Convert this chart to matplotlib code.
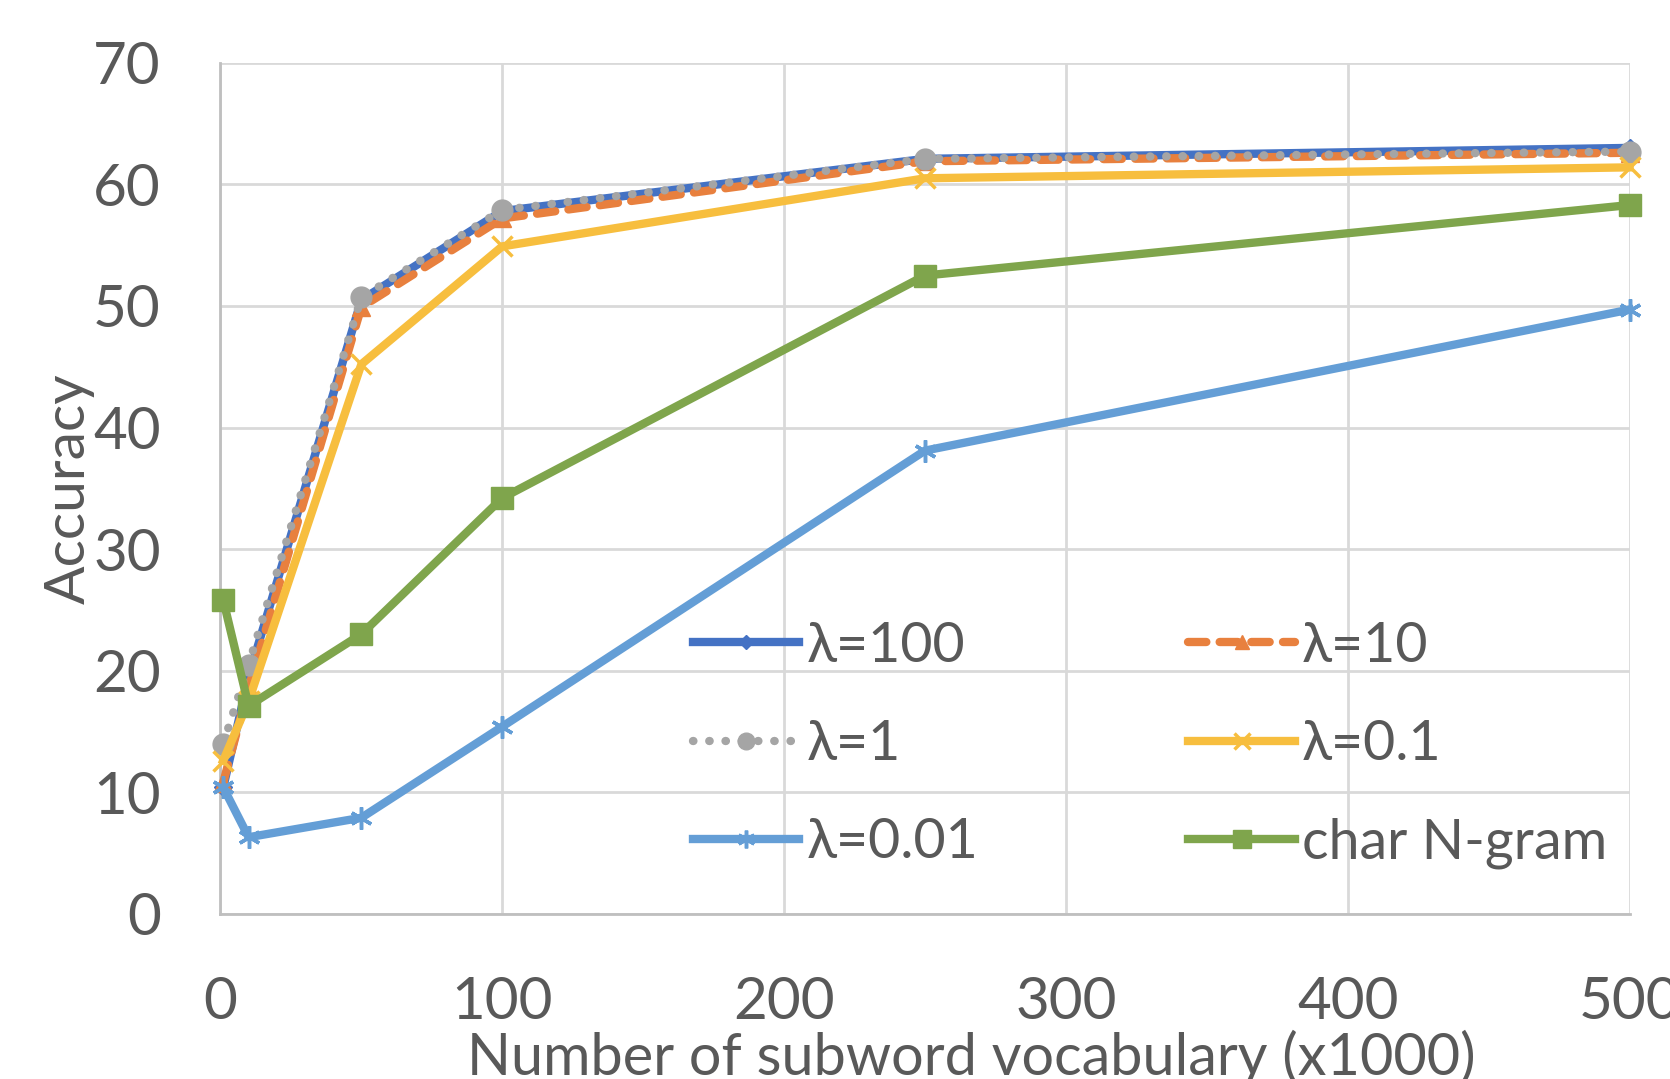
import numpy as np
import matplotlib
matplotlib.use('Agg')
import matplotlib.pyplot as plt

#---------------------------------------------------------------------#
# Accuracy vs. subword vocabulary size for several lambda values     #
#---------------------------------------------------------------------#
vocab = [1, 10, 50, 100, 250, 500]

acc_l100  = [10.4, 19.5, 50.5, 57.8, 62.1, 63.0]
acc_l10   = [10.8, 18.6, 49.9, 57.2, 61.9, 62.6]
acc_l1    = [14.0, 20.5, 50.7, 57.9, 62.1, 62.7]
acc_l01   = [12.6, 17.5, 45.2, 54.9, 60.5, 61.4]
acc_l001  = [10.4, 6.3, 7.9, 15.4, 38.1, 49.7]
acc_ngram = [25.8, 17.1, 23.0, 34.2, 52.5, 58.3]

labels = ['λ=100', 'λ=10', 'λ=1', 'λ=0.1', 'λ=0.01', 'char N-gram']

xticks = [0, 100, 200, 300, 400, 500]
yticks = [0, 10, 20, 30, 40, 50, 60, 70]

plt.rcParams['font.family'] = ['Lato', 'DejaVu Sans']
textColor = '#595959'
gridColor = '#D9D9D9'

fig = plt.figure(figsize=(16.7, 10.79), dpi=100)
ax = fig.add_axes([0.132, 0.1531, 0.8438, 0.7887])

lw = 6
h100, = ax.plot(vocab, acc_l100, color='#4472C4', lw=lw, marker='D', ms=9,
                label=labels[0], clip_on=False, zorder=3)
h10, = ax.plot(vocab, acc_l10, color='#E8803E', lw=lw, marker='^', ms=13,
               linestyle=(0, (2.2, 1.6)), dash_capstyle='round',
               label=labels[1], clip_on=False, zorder=4)
h1, = ax.plot(vocab, acc_l1, color='#A5A5A5', lw=lw, marker='o', ms=15,
              linestyle=(0, (0.05, 1.9)), dash_capstyle='round',
              label=labels[2], clip_on=False, zorder=5)
h01, = ax.plot(vocab, acc_l01, color='#F7BE3E', lw=lw, marker='x', ms=14, mew=2.5,
               label=labels[3], clip_on=False, zorder=6)
h001, = ax.plot(vocab, acc_l001, color='#649ED6', lw=lw, marker=(6, 2, 0), ms=16, mew=2.5,
                label=labels[4], clip_on=False, zorder=7)
hng, = ax.plot(vocab, acc_ngram, color='#7FA54C', lw=lw, marker='s', ms=16,
               label=labels[5], clip_on=False, zorder=8)

ax.set_xlim(0, 500)
ax.set_ylim(0, 70)
ax.set_xticks(xticks)
ax.set_yticks(yticks)
ax.grid(color=gridColor, linewidth=2)
ax.set_axisbelow(True)
for side in ['top', 'right']:
  ax.spines[side].set_visible(False)
for side in ['left', 'bottom']:
  ax.spines[side].set_color('#BFBFBF')
  ax.spines[side].set_linewidth(2)
ax.tick_params(axis='both', length=0, labelsize=42, labelcolor=textColor)
ax.tick_params(axis='x', pad=45)
ax.tick_params(axis='y', pad=43)

ax.set_xlabel('Number of subword vocabulary (x1000)', fontsize=41.5, color=textColor)
ax.xaxis.set_label_coords(0.533, -0.136)
ax.set_ylabel('Accuracy', fontsize=41, color=textColor)
ax.yaxis.set_label_coords(-0.089, 0.5)

# matplotlib fills legend columns first; reorder so rows read like the original
legHandles = [h100, h1, h001, h10, h01, hng]
leg = ax.legend(handles=legHandles, loc='upper left', bbox_to_anchor=(0.335, 0.3442),
                ncol=2, frameon=False, fontsize=40, borderpad=0, borderaxespad=0,
                handlelength=1.92, handletextpad=0.13, labelspacing=0.85,
                columnspacing=3.78, numpoints=1, markerscale=0.8)
for t in leg.get_texts():
  t.set_color(textColor)

plt.savefig('out.png', dpi=100)
